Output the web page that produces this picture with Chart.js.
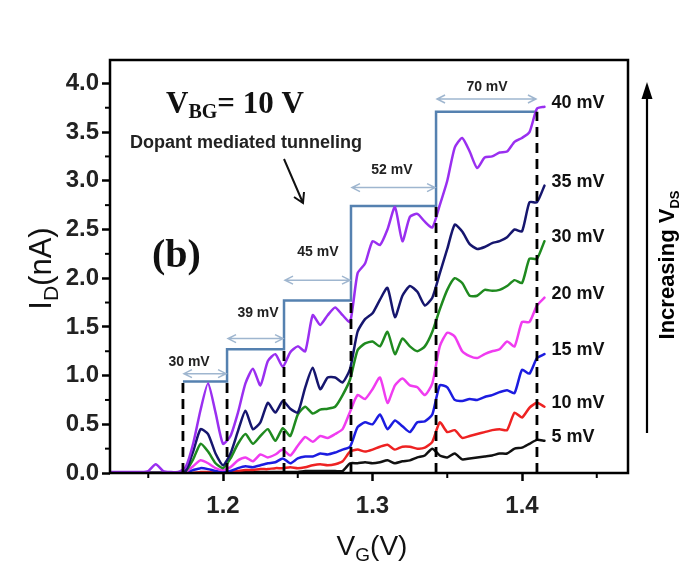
<!DOCTYPE html>
<html><head><meta charset="utf-8">
<style>html,body{margin:0;padding:0;background:#fff;} canvas{display:block;}</style>
<script src="https://cdn.jsdelivr.net/npm/chart.js@4.4.1/dist/chart.umd.min.js"></script>
</head><body>
<canvas id="c" width="680" height="563"></canvas>
<script>
// ---------- data ----------
const vg = [1.125,1.13,1.135,1.14,1.145,1.15,1.155,1.16,1.165,1.17,
  1.175,1.18,1.185,1.19,1.195,1.2,1.205,1.21,1.215,1.22,
  1.225,1.23,1.235,1.24,1.245,1.25,1.255,1.26,1.265,1.27,
  1.275,1.28,1.285,1.29,1.295,1.3,1.305,1.31,1.315,1.32,
  1.325,1.33,1.335,1.34,1.345,1.35,1.355,1.36,1.365,1.37,
  1.375,1.38,1.385,1.39,1.395,1.4,1.405,1.41,1.415];

const id40 = [0.01,0.01,0.01,0.01,0.01,0.02,0.09,0.02,0.01,0.01,
  0.06,0.3,0.65,0.92,0.62,0.3,0.38,0.62,0.92,1.07,
  0.9,1.15,1.22,1.09,1.24,1.3,1.25,1.62,1.52,1.62,
  1.7,1.62,1.55,2.05,2.15,2.38,2.34,2.5,2.73,2.38,
  2.63,2.66,2.58,2.52,2.75,3.0,3.34,3.44,3.3,3.13,
  3.24,3.25,3.29,3.3,3.4,3.44,3.5,3.74,3.76];
const id35 = [0,0,0,0,0,0,0,0,0,0,
  0.02,0.22,0.45,0.4,0.2,0.08,0.2,0.43,0.64,0.45,
  0.52,0.72,0.62,0.74,0.66,0.62,0.88,1.08,0.86,0.98,
  0.98,0.93,1.07,1.45,1.58,1.64,1.78,1.9,1.6,1.82,
  1.92,1.86,1.72,1.8,2.05,2.3,2.55,2.48,2.35,2.3,
  2.32,2.36,2.38,2.42,2.5,2.48,2.78,2.78,2.95];
const id30 = [0,0,0,0,0,0,0,0,0,0,
  0.02,0.14,0.3,0.22,0.1,0.05,0.15,0.3,0.4,0.3,
  0.38,0.45,0.33,0.46,0.38,0.6,0.68,0.61,0.65,0.66,
  0.68,0.8,0.96,1.26,1.33,1.35,1.3,1.45,1.22,1.38,
  1.3,1.25,1.3,1.45,1.68,1.88,2.0,1.95,1.82,1.82,
  1.88,1.87,1.88,1.92,1.98,1.95,2.2,2.2,2.38];
const id20 = [0,0,0,0,0,0,0,0,0,0,
  0.01,0.07,0.13,0.1,0.05,0.03,0.06,0.13,0.16,0.12,
  0.19,0.16,0.19,0.24,0.18,0.28,0.37,0.32,0.38,0.36,
  0.4,0.45,0.63,0.8,0.76,0.86,0.98,0.72,0.9,0.97,
  0.9,0.88,0.8,0.92,1.3,1.44,1.4,1.25,1.2,1.18,
  1.22,1.25,1.27,1.35,1.3,1.55,1.55,1.72,1.8];
const id15 = [0,0,0,0,0,0,0,0,0,0,
  0.005,0.03,0.05,0.04,0.02,0.01,0.02,0.05,0.07,0.06,
  0.08,0.1,0.11,0.15,0.1,0.15,0.17,0.17,0.2,0.19,
  0.21,0.24,0.27,0.47,0.52,0.5,0.6,0.45,0.54,0.48,
  0.42,0.52,0.53,0.6,0.9,0.88,0.75,0.74,0.76,0.75,
  0.78,0.8,0.83,0.85,0.82,1.06,1.02,1.18,1.22];
const id10 = [0,0,0,0,0,0,0,0,0,0,
  0,0,0.01,0.01,0.005,0,0.01,0.02,0.03,0.03,
  0.04,0.04,0.05,0.05,0.06,0.05,0.06,0.08,0.09,0.08,
  0.09,0.12,0.22,0.24,0.22,0.24,0.27,0.29,0.24,0.27,
  0.27,0.25,0.26,0.32,0.52,0.42,0.44,0.36,0.38,0.4,
  0.42,0.44,0.45,0.44,0.62,0.57,0.67,0.72,0.68];
const id5 = [0,0,0,0,0,0,0,0,0,0,
  0,0,0,0,0,0,0.01,0.01,0.01,0.01,
  0.01,0.01,0.01,0.01,0.01,0.01,0.02,0.02,0.02,0.02,
  0.02,0.02,0.1,0.1,0.11,0.1,0.11,0.13,0.1,0.12,
  0.13,0.16,0.18,0.25,0.18,0.16,0.2,0.14,0.15,0.16,
  0.17,0.18,0.2,0.2,0.25,0.26,0.3,0.34,0.33];

const seriesNames = ['40 mV','35 mV','30 mV','20 mV','15 mV','10 mV','5 mV'];
const seriesData  = [id40, id35, id30, id20, id15, id10, id5];
const seriesColors = ['#9a2ff0','#16166e','#1f8a1f','#f03cf0','#1c1ce0','#ee2222','#111111'];

// dopant tunnelling staircase
const edgeVG   = [1.1732, 1.2027, 1.2408, 1.2856, 1.3425, 1.4100];
const stepLevels = [0.94, 1.27, 1.77, 2.74, 3.71];
const dashTops = [0.94, 0.94, 1.27, 1.77, 2.74, 3.71];
const spacingLabels = ['30 mV','39 mV','45 mV','52 mV','70 mV'];
const arrowLevels = [1.02, 1.38, 1.98, 2.93, 3.84];
const spacingTextLevels = [1.14, 1.64, 2.27, 3.11, 3.96];
const spacingTextVG = [1.1773, 1.2234, 1.2635, 1.3130, 1.3766];

const xTicks = [1.2, 1.3, 1.4];
const xMinor = [1.15, 1.25, 1.35, 1.45];
const yTicks = [0, 0.5, 1.0, 1.5, 2.0, 2.5, 3.0, 3.5, 4.0];
const yMinor = [0.25, 0.75, 1.25, 1.75, 2.25, 2.75, 3.25, 3.75];

// ---------- datasets ----------
const dashPts = [];
edgeVG.forEach((x, i) => { dashPts.push({x, y: 0}, {x, y: dashTops[i]}, {x, y: null}); });
const stairPts = [];
stepLevels.forEach((L, i) => { stairPts.push({x: edgeVG[i], y: L}, {x: edgeVG[i+1], y: L}); });

const datasets = [{
  data: dashPts, borderColor: '#000', borderWidth: 2.8, borderDash: [10, 6],
  pointRadius: 0, spanGaps: false, tension: 0
}];
seriesData.forEach((arr, k) => {
  datasets.push({
    data: vg.map((x, i) => ({x, y: arr[i]})),
    borderColor: seriesColors[k], borderWidth: 2.5, pointRadius: 0,
    tension: 0.2, borderJoinStyle: 'round', borderCapStyle: 'round'
  });
});
datasets.push({
  data: stairPts, borderColor: '#5581b0', borderWidth: 2.5, pointRadius: 0, tension: 0
});

// ---------- helpers ----------
function drawParts(ctx, parts, x, y, align) {
  let w = 0;
  parts.forEach(p => { ctx.font = p.f; w += ctx.measureText(p.t).width; });
  let cx = align === 'center' ? x - w / 2 : x;
  parts.forEach(p => {
    ctx.font = p.f; ctx.fillText(p.t, cx, y + (p.dy || 0));
    cx += ctx.measureText(p.t).width;
  });
}

const deco = {
  id: 'deco',
  afterDraw(chart) {
    const ctx = chart.ctx, xs = chart.scales.x, ys = chart.scales.y, a = chart.chartArea;
    ctx.save();
    // frame
    ctx.strokeStyle = '#000'; ctx.lineWidth = 2.5;
    ctx.strokeRect(a.left, a.top, a.right - a.left, a.bottom - a.top);
    // minor ticks
    ctx.lineWidth = 2;
    xMinor.forEach(v => { const px = xs.getPixelForValue(v); ctx.beginPath(); ctx.moveTo(px, a.bottom); ctx.lineTo(px, a.bottom + 5); ctx.stroke(); });
    yMinor.forEach(v => { const py = ys.getPixelForValue(v); ctx.beginPath(); ctx.moveTo(a.left, py); ctx.lineTo(a.left - 5, py); ctx.stroke(); });

    // spacing arrows
    ctx.strokeStyle = '#9fb6cf'; ctx.lineWidth = 1.5;
    spacingLabels.forEach((t, i) => {
      const x1 = xs.getPixelForValue(edgeVG[i]) + 1, x2 = xs.getPixelForValue(edgeVG[i+1]) - 1;
      const py = ys.getPixelForValue(arrowLevels[i]);
      ctx.beginPath(); ctx.moveTo(x1, py); ctx.lineTo(x2, py);
      ctx.moveTo(x1 + 8, py - 4); ctx.lineTo(x1, py); ctx.lineTo(x1 + 8, py + 4);
      ctx.moveTo(x2 - 8, py - 4); ctx.lineTo(x2, py); ctx.lineTo(x2 - 8, py + 4);
      ctx.stroke();
    });
    ctx.fillStyle = '#222'; ctx.textBaseline = 'middle'; ctx.textAlign = 'center';
    ctx.font = 'bold 14px "Liberation Sans"';
    spacingLabels.forEach((t, i) => {
      ctx.fillText(t, xs.getPixelForValue(spacingTextVG[i]), ys.getPixelForValue(spacingTextLevels[i]));
    });

    // series labels at line ends
    ctx.textAlign = 'left'; ctx.fillStyle = '#111';
    ctx.font = 'bold 18px "Liberation Sans"';
    seriesNames.forEach((n, k) => {
      const arr = seriesData[k];
      const py = ys.getPixelForValue(arr[arr.length - 1]) - 4;
      ctx.fillText(n, xs.getPixelForValue(vg[vg.length - 1]) + 7, py);
    });

    // V_BG = 10 V
    ctx.textBaseline = 'alphabetic'; ctx.fillStyle = '#111';
    drawParts(ctx, [
      {t: 'V', f: 'bold 31px "Liberation Serif"'},
      {t: 'BG', f: 'bold 20px "Liberation Serif"', dy: 5},
      {t: '= 10 V', f: 'bold 31px "Liberation Serif"'}
    ], 166, 113, 'left');
    ctx.font = 'bold 40px "Liberation Serif"';
    ctx.fillText('(b)', 152, 267);

    // dopant text + arrow
    ctx.font = 'bold 18px "Liberation Sans"'; ctx.fillStyle = '#222';
    ctx.textBaseline = 'middle';
    ctx.fillText('Dopant mediated tunneling', 130, 143);
    ctx.strokeStyle = '#111'; ctx.lineWidth = 2;
    ctx.beginPath(); ctx.moveTo(284, 159); ctx.lineTo(303, 203);
    ctx.moveTo(294, 197); ctx.lineTo(303, 203); ctx.lineTo(304, 192);
    ctx.stroke();

    // axis titles
    ctx.fillStyle = '#111'; ctx.textBaseline = 'alphabetic';
    drawParts(ctx, [
      {t: 'V', f: '28px "Liberation Sans"'},
      {t: 'G', f: '19px "Liberation Sans"', dy: 6},
      {t: '(V)', f: '28px "Liberation Sans"'}
    ], (a.left + a.right) / 2 + 3, 555, 'center');
    ctx.save();
    ctx.translate(51, (a.top + a.bottom) / 2 + 2);
    ctx.rotate(-Math.PI / 2);
    drawParts(ctx, [
      {t: 'I', f: '31px "Liberation Sans"'},
      {t: 'D', f: '21px "Liberation Sans"', dy: 7},
      {t: '(nA)', f: '31px "Liberation Sans"'}
    ], 0, 0, 'center');
    ctx.restore();

    // Increasing V_DS
    ctx.strokeStyle = '#000'; ctx.fillStyle = '#000'; ctx.lineWidth = 2.2;
    ctx.beginPath(); ctx.moveTo(647, 433); ctx.lineTo(647, 95); ctx.stroke();
    ctx.beginPath(); ctx.moveTo(647, 82); ctx.lineTo(641.5, 99); ctx.lineTo(652.5, 99); ctx.closePath(); ctx.fill();
    ctx.save();
    ctx.translate(674, 265);
    ctx.rotate(-Math.PI / 2);
    drawParts(ctx, [
      {t: 'Increasing V', f: 'bold 22px "Liberation Sans"'},
      {t: 'DS', f: 'bold 13px "Liberation Sans"', dy: 5}
    ], 0, 0, 'center');
    ctx.restore();
    ctx.restore();
  }
};

const grid = { drawOnChartArea: false, drawTicks: true, tickLength: 8, tickWidth: 2.5, tickColor: '#000' };
new Chart(document.getElementById('c').getContext('2d'), {
  type: 'line',
  data: { datasets },
  options: {
    responsive: false, animation: false, events: [],
    layout: { padding: { left: 0, top: 60, right: 52, bottom: 0 } },
    plugins: { legend: { display: false }, tooltip: { enabled: false } },
    scales: {
      x: {
        type: 'linear', min: 1.1244, max: 1.4709,
        afterFit(s) { s.height = 90; },
        afterBuildTicks(s) { s.ticks = xTicks.map(v => ({value: v})); },
        ticks: { font: { family: 'Liberation Sans', size: 24, weight: 'bold' }, color: '#222', padding: 11, maxRotation: 0,
                 callback: v => Number(v).toFixed(1) },
        grid, border: { display: false }
      },
      y: {
        type: 'linear', min: 0, max: 4.24,
        afterFit(s) { s.width = 110; },
        afterBuildTicks(s) { s.ticks = yTicks.map(v => ({value: v})); },
        ticks: { font: { family: 'Liberation Sans', size: 24, weight: 'bold' }, color: '#222', padding: 3,
                 callback: v => Number(v).toFixed(1) },
        grid, border: { display: false }
      }
    }
  },
  plugins: [deco]
});
</script>
</body></html>
